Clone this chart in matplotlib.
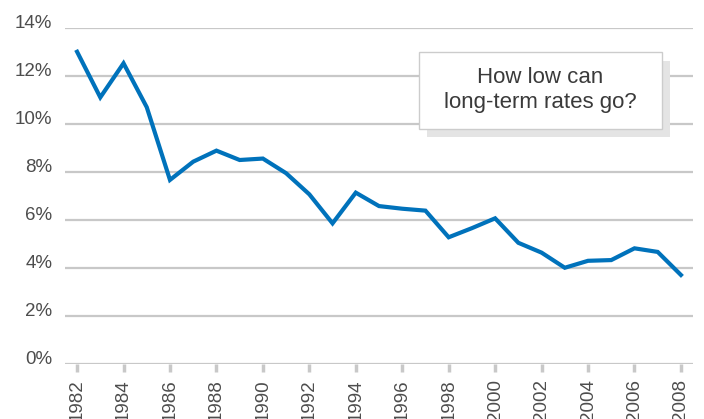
"""
Long-term interest rates, 1982-2008.
"""
# Imports
import matplotlib
matplotlib.use('Agg')
import matplotlib.pyplot as plt
from matplotlib.patches import Rectangle

# Data
years = list(range(1982, 2009))
rates = [13.01, 11.11, 12.53, 10.70, 7.67, 8.43, 8.89, 8.50, 8.56, 7.95,
         7.07, 5.86, 7.14, 6.58, 6.47, 6.39, 5.28, 5.66, 6.07, 5.05,
         4.64, 4.01, 4.30, 4.33, 4.82, 4.67, 3.71]
y_ticks = [0, 2, 4, 6, 8, 10, 12, 14]
x_ticks = list(range(1982, 2009, 2))
note = 'How low can\nlong-term rates go?'

line_color = '#0072bb'
grid_color = '#c8c8c8'
text_color = '#4d4d4d'

plt.rcParams['font.family'] = ['Liberation Sans', 'DejaVu Sans']

fig = plt.figure(figsize=(7.04, 4.19), dpi=100)
ax = fig.add_axes([65 / 704, 55 / 419, 628 / 704, 336 / 419])

# Grid lines (drawn as horizontal lines)
for t in y_ticks:
    ax.axhline(t, color=grid_color, lw=1.6, zorder=1)

ax.plot(years, rates, color=line_color, lw=3, solid_joinstyle='miter', zorder=3)

ax.set_xlim(1981.48, 2008.52)
ax.set_ylim(0, 14)

ax.set_yticks(y_ticks)
ax.set_yticklabels(['{0}%'.format(t) for t in y_ticks])
ax.set_xticks(x_ticks)
ax.set_xticklabels([str(x) for x in x_ticks], rotation=90)

ax.tick_params(axis='y', length=0, pad=9, labelsize=13.5, labelcolor=text_color)
ax.tick_params(axis='x', length=6, width=2.5, color=grid_color, pad=5,
               labelsize=13.5, labelcolor=text_color)
for lab in ax.get_yticklabels():
    lab.set_va('baseline')

for s in ax.spines.values():
    s.set_visible(False)

# Note box with drop shadow
shadow = Rectangle((427 / 704, 1 - 137 / 419), 243 / 704, 76 / 419,
                   transform=fig.transFigure, facecolor='#e4e4e4',
                   edgecolor='none', zorder=4)
box = Rectangle((419 / 704, 1 - 129 / 419), 243 / 704, 77 / 419,
                transform=fig.transFigure, facecolor='white',
                edgecolor='#cccccc', lw=1, zorder=5)
fig.patches.extend([shadow, box])
fig.text(540 / 704, 1 - 90 / 419, note, ha='center', va='center',
         fontsize=16, color='#3a3a3a', linespacing=1.2, zorder=6)

fig.savefig('out.png', dpi=100)
